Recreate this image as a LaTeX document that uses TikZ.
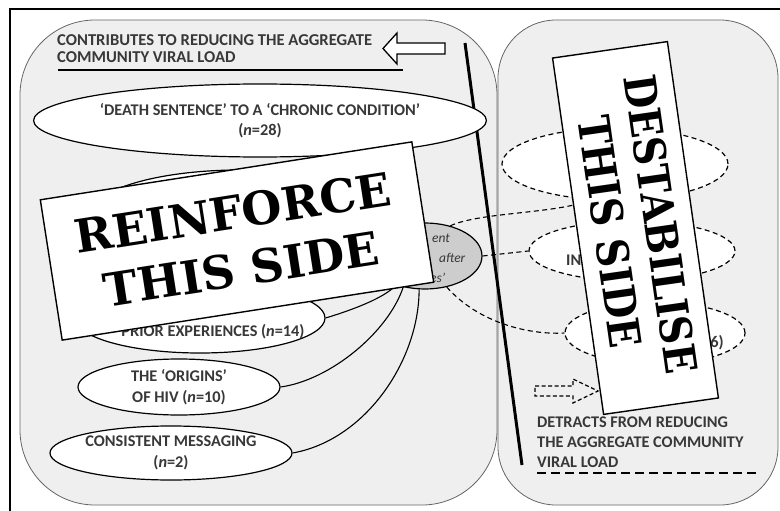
\documentclass[tikz,border=0pt]{standalone}
\usepackage{fontspec}
\setmainfont{Carlito}
\newfontfamily\slabfont{DejaVu Serif}
\newfontfamily\slabnarrow{DejaVu Serif}[FakeStretch=0.88]
\usetikzlibrary{shapes.geometric}
\definecolor{txt}{HTML}{383838}
\definecolor{panelfill}{HTML}{EFEFEF}
\definecolor{hubfill}{HTML}{CDCDCD}
\begin{document}
\begin{tikzpicture}[x=1pt,y=-1pt,
  panel/.style={draw=black!60, line width=0.8pt, fill=panelfill, rounded corners=#1},
  oval/.style={ellipse, draw=black, line width=1.2pt, fill=white, inner sep=0pt,
    align=center, text=txt, font=\fontsize{16.3}{20.5}\selectfont\bfseries},
  dashoval/.style={oval, dash pattern=on 5pt off 3.5pt},
  heading/.style={inner sep=0pt, align=left, text=txt, font=\fontsize{16.6}{17.5}\selectfont\bfseries},
  link/.style={draw=black, line width=1.1pt},
  dashlink/.style={draw=black, line width=1.1pt, dash pattern=on 5pt off 3.5pt},
  sign/.style={draw=black, line width=1.4pt, fill=white, inner sep=0pt, align=center},
  frag/.style={inner sep=0pt, text=txt, font=\fontsize{16.3}{18}\selectfont\bfseries},
  hubfrag/.style={inner sep=0pt, text=txt, font=\fontsize{13.5}{16}\selectfont\itshape}]
\useasboundingbox (0,0) rectangle (780,511);
\clip (0,0) rectangle (780,511);

% outer frame
\draw[line width=2pt] (800,9) -- (10,9) -- (10,530);

% the two panels
\draw[panel=75pt] (20,20) rectangle (497,505);
\draw[panel=58pt] (498,20) rectangle (778,505);

% heading of the left panel, with its rule and hollow arrow
\node[heading, anchor=west] (headL) at (57,48.5)
  {CONTRIBUTES TO REDUCING THE AGGREGATE\\COMMUNITY VIRAL LOAD};
\coordinate (ruleLa) at (58,70);
\coordinate (ruleLb) at (403,70);
\draw[line width=2.6pt] (ruleLa) -- (ruleLb);
\draw[line width=1.3pt, fill=white]
  (383,48.5) -- (397,33) -- (397,43) -- (445,43) -- (445,54) -- (397,54) -- (397,64) -- cycle;

% dividing line
\coordinate (divtop) at (465,43);
\coordinate (divbot) at (522,465);
\draw[line width=3pt] (divtop) -- (divbot);

% themes on the reinforcing side
\node[oval, minimum width=404pt, minimum height=73pt] (death) at (260,120.5)
  {‘DEATH SENTENCE’ TO A ‘CHRONIC CONDITION’\\(\textit{n}=28)};
\node[oval, minimum width=300pt, minimum height=90pt] (hidden) at (240,215) {};
\node[oval, minimum width=250pt, minimum height=70pt] (prior) at (200,318) {};
\node[frag, anchor=center] (priortxt) at (213,332) {PRIOR EXPERIENCES (\textit{n}=14)};
\node[oval, minimum width=202pt, minimum height=56pt] (origins) at (179,387)
  {THE ‘ORIGINS’\\OF HIV (\textit{n}=10)};
\node[oval, minimum width=232pt, minimum height=54pt] (consistent) at (171,453)
  {CONSISTENT MESSAGING\\(\textit{n}=2)};

% central theme
\node[ellipse, draw=black, line width=1.2pt, fill=hubfill, inner sep=0pt,
  minimum width=114pt, minimum height=66pt] (hub) at (425,256) {};
\node[hubfrag, anchor=west] (hub1) at (432,238) {ent};
\node[hubfrag, anchor=west] (hub2) at (439,258) {after};
\node[hubfrag, anchor=west] (hub3) at (430,278) {es’};

% solid links into the central theme
\draw[link] (prior.east) .. controls +(20,-6) and +(-12,14) .. (hub.225);
\draw[link] (origins.east) .. controls +(50,-7) and +(-15,45) .. (hub.235);
\draw[link] (consistent.east) .. controls +(73,-13) and +(0,71) .. (hub.260);

% themes on the destabilising side
\node[dashoval, minimum width=226pt, minimum height=72pt] (r1) at (615,164) {};
\node[dashoval, minimum width=206pt, minimum height=60pt] (r2) at (632,251) {};
\node[frag, anchor=west] (r2txt) at (566,260) {IN};
\node[dashoval, minimum width=180pt, minimum height=62pt] (r3) at (655,333) {};
\node[frag, anchor=east] (r3txt) at (724,343) {6)};

% dashed links out of the central theme
\draw[dashlink] (hub.50) .. controls +(30,-14) and +(-30,14) .. (r1.235);
\draw[dashlink] (hub.east) -- (r2.west);
\draw[dashlink] (hub.-55) .. controls +(32,36) and +(-35,2) .. (r3.west);

% heading of the right panel, with its dashed arrow and rule
\draw[line width=1.2pt, dash pattern=on 4pt off 2.5pt]
  (535,386) -- (573,386) -- (573,379) -- (598,391) -- (573,403) -- (573,396) -- (535,396) -- cycle;
\node[heading, anchor=west, font=\fontsize{16.3}{20}\selectfont\bfseries] (headR) at (537,442)
  {DETRACTS FROM REDUCING\\THE AGGREGATE COMMUNITY\\VIRAL LOAD};
\coordinate (ruleRa) at (537,473);
\coordinate (ruleRb) at (758,473);
\draw[line width=2.2pt, dash pattern=on 9pt off 5pt] (ruleRa) -- (ruleRb);

% the two signs
\node[sign, rotate=8.86, minimum width=376pt, minimum height=142pt,
  font=\slabfont\bfseries\fontsize{46}{57}\selectfont] (reinforce) at (237,241)
  {REINFORCE\\THIS SIDE};
\node[sign, rotate=-81.85, minimum width=360pt, minimum height=116pt,
  font=\slabnarrow\bfseries\fontsize{44}{51}\selectfont] (destab) at (635.5,228)
  {DESTABILISE\\THIS SIDE};
\end{tikzpicture}
\end{document}
